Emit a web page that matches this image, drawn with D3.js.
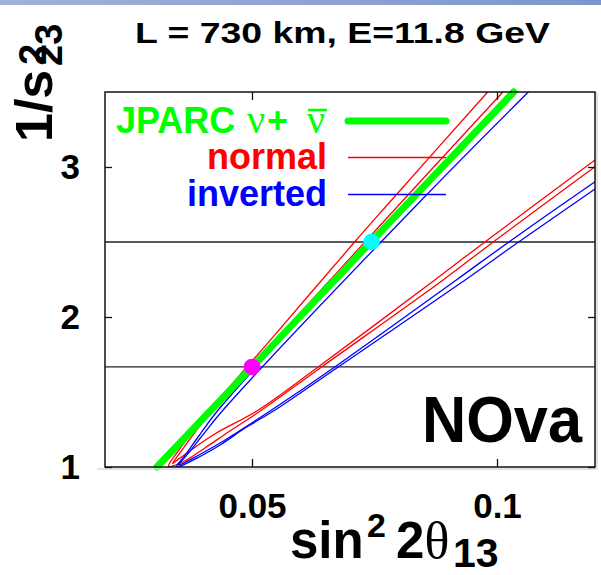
<!DOCTYPE html>
<html><head><meta charset="utf-8">
<script src="https://cdn.jsdelivr.net/npm/d3@7"></script>
<style>html,body{margin:0;padding:0;background:#fff;}svg{display:block;}</style>
</head><body>
<script>
// ---- data ----
const xTicks = [0.05, 0.1];
const xTickLabels = ["0.05", "0.1"];
const yTicks = [1, 2, 3];
const yTickLabels = ["1", "2", "3"];
const refLines = [2.5, 1.667];            // 1/s23^2 for s23^2 = 0.4, 0.6
const jparcX = [0.0306, 0.1034];
const jparcY = [1.0, 3.5];
const normalOuterX = [0.0981,0.0785,0.0712,0.0555,0.0414,0.0373,0.0345,0.0332,0.0330,0.0339,0.0363,0.0404,0.0455,0.0520,0.0642,0.0890,0.0995,0.1200];
const normalOuterY = [3.5,2.78,2.51,1.913,1.38,1.213,1.087,1.027,1.003,1.007,1.04,1.127,1.24,1.38,1.667,2.247,2.507,3.002];
const normalInnerX = [0.1012,0.0809,0.0420,0.0384,0.0357,0.0341,0.0338,0.0345,0.0373,0.0424,0.0513,0.0635,0.0873,0.0978,0.1200];
const normalInnerY = [3.5,2.78,1.38,1.233,1.113,1.04,1.023,1.04,1.107,1.22,1.38,1.667,2.247,2.507,3.047];
const invertedOuterX = [0.1033,0.0824,0.0431,0.0390,0.0361,0.0347,0.0346,0.0355,0.0384,0.0435,0.0486,0.0547,0.0676,0.0935,0.1047,0.1200];
const invertedOuterY = [3.5,2.78,1.38,1.2,1.067,1.013,1.0,1.007,1.053,1.147,1.26,1.38,1.667,2.247,2.507,2.853];
const invertedInnerX = [0.1064,0.0846,0.0441,0.0398,0.0369,0.0353,0.0350,0.0357,0.0388,0.0445,0.0540,0.0669,0.0917,0.1027,0.1200];
const invertedInnerY = [3.5,2.78,1.38,1.207,1.087,1.027,1.013,1.02,1.073,1.18,1.38,1.667,2.247,2.507,2.902];
const pointX = [0.05, 0.0744];
const pointY = [1.667, 2.5];
const pointColors = ["#ff00ff", "#00ffff"];
const legendLabels = ["normal", "inverted"];

// ---- chart ----
const W = 601, H = 575;
const svg = d3.select("body").append("svg").attr("width", W).attr("height", H);
const FONT = "'Liberation Sans', Arial, sans-serif";
const SERIF = "'Liberation Serif', 'Times New Roman', serif";

const defs = svg.append("defs");
const grad = defs.append("linearGradient").attr("id", "topband").attr("x1", 0).attr("x2", 1);
grad.append("stop").attr("offset", 0).attr("stop-color", "#a3b0da");
grad.append("stop").attr("offset", 1).attr("stop-color", "#7d95cc");
svg.append("rect").attr("x", 0).attr("y", 0).attr("width", W).attr("height", 5).attr("fill", "url(#topband)");

const L = 105, R = 595, T = 92, B = 467;
const x = d3.scaleLinear().domain([0.02, 0.12]).range([L, R]);
const y = d3.scaleLinear().domain([1, 3.5]).range([B, T]);

defs.append("clipPath").attr("id", "clip").append("rect")
  .attr("x", L).attr("y", T - 1).attr("width", R - L).attr("height", B - T + 1);

// reference lines
svg.selectAll("line.ref").data(refLines).join("line").attr("class", "ref")
  .attr("x1", L).attr("x2", R).attr("y1", d => y(d)).attr("y2", d => y(d))
  .attr("stroke", "#222").attr("stroke-width", 1.3);

// curves
const line = d3.line().x(d => x(d[0])).y(d => y(d[1])).curve(d3.curveCatmullRom.alpha(0.5));
const curves = [
  [normalOuterX, normalOuterY, "#ff0000"],
  [normalInnerX, normalInnerY, "#ff0000"],
  [invertedOuterX, invertedOuterY, "#0000ff"],
  [invertedInnerX, invertedInnerY, "#0000ff"]
];
const cg = svg.append("g").attr("clip-path", "url(#clip)");
curves.forEach(([xs, ys, c]) => {
  cg.append("path").datum(xs.map((v, i) => [v, ys[i]]))
    .attr("d", line).attr("fill", "none").attr("stroke", c).attr("stroke-width", 1.3);
});

// JPARC line
svg.append("path").datum(jparcX.map((v, i) => [v, jparcY[i]]))
  .attr("d", d3.line().x(d => x(d[0])).y(d => y(d[1])))
  .attr("fill", "none").attr("stroke", "#00ff00").attr("stroke-width", 7).attr("stroke-linecap", "round");

// points
svg.selectAll("circle.pt").data(pointX).join("circle").attr("class", "pt")
  .attr("cx", d => x(d)).attr("cy", (d, i) => y(pointY[i])).attr("r", 8.3)
  .attr("fill", (d, i) => pointColors[i]);

// frame
svg.append("rect").attr("x", L).attr("y", T).attr("width", R - L).attr("height", B - T)
  .attr("fill", "none").attr("stroke", "#111").attr("stroke-width", 1.5);
svg.append("line").attr("x1", L - 8).attr("x2", R + 2).attr("y1", B + 2).attr("y2", B + 2).attr("stroke", "#d8d8d8").attr("stroke-width", 1.5);
svg.append("line").attr("x1", R + 2).attr("x2", R + 2).attr("y1", T).attr("y2", B + 2).attr("stroke", "#d8d8d8").attr("stroke-width", 1.5);

// axes
svg.append("g").attr("transform", `translate(0,${B})`)
  .call(d3.axisBottom(x).tickValues(xTicks).tickFormat((d, i) => xTickLabels[i]).tickSize(-8).tickPadding(26));
svg.append("g").attr("transform", `translate(0,${T})`)
  .call(d3.axisTop(x).tickValues(xTicks).tickFormat("").tickSize(-8));
svg.append("g").attr("transform", `translate(${L},0)`)
  .call(d3.axisLeft(y).tickValues(yTicks).tickFormat((d, i) => yTickLabels[i]).tickSize(-7).tickPadding(25));
svg.append("g").attr("transform", `translate(${R},0)`)
  .call(d3.axisRight(y).tickValues(yTicks).tickFormat("").tickSize(-7));
svg.selectAll(".domain").remove();
svg.selectAll(".tick line").attr("stroke", "#111").attr("stroke-width", 1.3);
svg.selectAll(".tick text").attr("font-family", FONT).attr("font-weight", "bold").attr("font-size", 35).attr("fill", "#000");

// title
svg.append("text").attr("x", 135).attr("y", 43).attr("font-family", FONT).attr("font-weight", "bold")
  .attr("font-size", 29).attr("textLength", 415).attr("lengthAdjust", "spacingAndGlyphs")
  .text("L = 730 km, E=11.8 GeV");

// x axis label
const xl = svg.append("text").attr("y", 558).attr("font-family", FONT).attr("font-weight", "bold").attr("fill", "#000");
xl.append("tspan").attr("x", 290).attr("font-size", 51).text("sin");
xl.append("tspan").attr("x", 367).attr("y", 537).attr("font-size", 34).text("2");
xl.append("tspan").attr("x", 396).attr("y", 558).attr("font-size", 51).text("2");
xl.append("tspan").attr("font-size", 52).attr("font-family", SERIF).attr("font-weight", "normal").text("θ");
xl.append("tspan").attr("x", 453).attr("y", 567).attr("font-size", 41).text("13");

// y axis label (rotated)
const yl = svg.append("g").attr("transform", "translate(52,142) rotate(-90)");
const ylt = yl.append("text").attr("font-family", FONT).attr("font-weight", "bold");
ylt.append("tspan").attr("x", 0).attr("y", 0).attr("font-size", 52).text("1/s");
ylt.append("tspan").attr("x", 77).attr("y", -6).attr("font-size", 38).text("2");
ylt.append("tspan").attr("x", 76).attr("y", 10).attr("font-size", 38).text("23");

// NOva
svg.append("text").attr("x", 582).attr("y", 442).attr("text-anchor", "end").attr("font-family", FONT)
  .attr("font-weight", "bold").attr("font-size", 64).attr("textLength", 160).attr("lengthAdjust", "spacingAndGlyphs").text("NOva");

// legend
const lg = svg.append("g");
const GREEN = "#00ff00";
const jt = lg.append("text").attr("y", 133).attr("fill", GREEN).attr("font-family", FONT)
  .attr("font-weight", "bold").attr("font-size", 36);
jt.append("tspan").attr("x", 116).text("JPARC");
jt.append("tspan").attr("x", 247).attr("font-family", SERIF).attr("font-weight", "normal").attr("font-size", 40).text("ν");
jt.append("tspan").attr("x", 267).text("+");
jt.append("tspan").attr("x", 307).attr("font-family", SERIF).attr("font-weight", "normal").attr("font-size", 40).text("ν");
lg.append("line").attr("x1", 308).attr("x2", 327).attr("y1", 110).attr("y2", 110).attr("stroke", GREEN).attr("stroke-width", 2.5);
lg.append("line").attr("x1", 348).attr("x2", 446).attr("y1", 121).attr("y2", 121)
  .attr("stroke", GREEN).attr("stroke-width", 7).attr("stroke-linecap", "round");
const legColors = ["#ff0000", "#0000ff"];
const legY = [169, 206];
legendLabels.forEach((t, i) => {
  lg.append("text").attr("x", 327).attr("y", legY[i]).attr("text-anchor", "end").attr("fill", legColors[i])
    .attr("font-family", FONT).attr("font-weight", "bold").attr("font-size", 36).text(t);
  lg.append("line").attr("x1", 348).attr("x2", 446).attr("y1", legY[i] - 11.5).attr("y2", legY[i] - 11.5)
    .attr("stroke", legColors[i]).attr("stroke-width", 1.3);
});
</script>
</body></html>
